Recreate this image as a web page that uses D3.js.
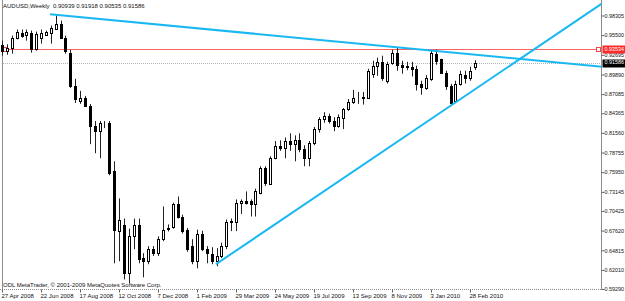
<!DOCTYPE html>
<html>
<head>
<meta charset="utf-8">
<script src="https://cdn.jsdelivr.net/npm/d3@7"></script>
<style>
  body { margin: 0; background: #fff; }
  svg { display: block; font-family: "Liberation Sans", Arial, sans-serif; }
</style>
</head>
<body>
<div id="my_dataviz"></div>
<script>
// weekly AUDUSD candles, first one is the week of 27 Apr 2008
var open = [0.9415,0.9329,0.9372,0.9515,0.9587,0.9558,0.9587,0.9357,0.9515,0.9558,
  0.9587,0.9644,0.9716,0.9515,0.9300,0.8827,0.8612,0.8655,0.8540,0.8253,
  0.8181,0.8296,0.8296,0.7608,0.6755,0.6848,0.6152,0.6683,0.6848,0.6368,
  0.6325,0.6497,0.6440,0.6640,0.6790,0.6819,0.7135,0.6963,0.6776,0.6540,
  0.6325,0.6712,0.6497,0.6425,0.6325,0.6396,0.6540,0.6891,0.6891,0.7149,
  0.7178,0.7178,0.7135,0.7293,0.7651,0.7422,0.7794,0.7966,0.7938,0.8038,
  0.7995,0.8060,0.7923,0.7794,0.8010,0.8210,0.8350,0.8400,0.8330,0.8260,
  0.8368,0.8497,0.8597,0.8655,0.8670,0.8655,0.8999,0.9114,0.9171,0.8898,
  0.9157,0.9300,0.9128,0.9110,0.9100,0.9070,0.8855,0.8798,0.8927,0.9286,
  0.9214,0.9013,0.8827,0.8612,0.8855,0.8980,0.8941,0.90939]
var high = [0.9472,0.9420,0.9544,0.9630,0.9630,0.9630,0.9615,0.9601,0.9630,0.9615,
  0.9687,0.9831,0.9759,0.9544,0.9343,0.8927,0.8755,0.8683,0.8569,0.8325,
  0.8325,0.8325,0.8325,0.7751,0.7221,0.6934,0.6790,0.6934,0.6934,0.6440,
  0.6540,0.6540,0.6680,0.7106,0.6850,0.7160,0.7250,0.6990,0.6800,0.6640,
  0.6776,0.6760,0.6540,0.6526,0.6511,0.6590,0.6920,0.6934,0.7207,0.7207,
  0.7321,0.7207,0.7360,0.7680,0.7680,0.7823,0.8040,0.8050,0.8090,0.8150,
  0.8120,0.8150,0.7980,0.8040,0.8240,0.8380,0.8450,0.8430,0.8380,0.8420,
  0.8511,0.8640,0.8770,0.8740,0.8740,0.9070,0.9185,0.9230,0.9257,0.9170,
  0.9343,0.9372,0.9185,0.9170,0.9170,0.9114,0.8900,0.8980,0.9329,0.9343,
  0.9214,0.9042,0.8855,0.8900,0.9042,0.9042,0.9100,0.91918]
var low = [0.9257,0.9270,0.9286,0.9490,0.9515,0.9472,0.9300,0.9329,0.9429,0.9544,
  0.9429,0.9630,0.9501,0.9286,0.8798,0.8583,0.8569,0.8526,0.7995,0.7866,
  0.7794,0.8224,0.7551,0.6296,0.6325,0.6066,0.6009,0.6497,0.6296,0.6095,
  0.6282,0.6400,0.6400,0.6612,0.6750,0.6790,0.6934,0.6720,0.6460,0.6282,
  0.6224,0.6468,0.6296,0.6282,0.6253,0.6370,0.6497,0.6755,0.6755,0.7000,
  0.7135,0.6963,0.6963,0.7280,0.7400,0.7422,0.7780,0.7900,0.7794,0.7900,
  0.7751,0.7880,0.7680,0.7680,0.7980,0.8160,0.8300,0.8290,0.8180,0.8230,
  0.8210,0.8470,0.8569,0.8570,0.8560,0.8640,0.8941,0.8970,0.8898,0.8860,
  0.9128,0.9042,0.9000,0.9050,0.8960,0.8760,0.8700,0.8770,0.8898,0.9128,
  0.8999,0.8770,0.8540,0.8583,0.8830,0.8860,0.8900,0.90535]
var close = [0.9329,0.9372,0.9515,0.9601,0.9544,0.9601,0.9357,0.9572,0.9587,0.9601,
  0.9658,0.9716,0.9515,0.9329,0.8827,0.8640,0.8655,0.8540,0.8253,0.8181,
  0.8296,0.8290,0.7579,0.6776,0.6920,0.6152,0.6683,0.6848,0.6353,0.6325,
  0.6497,0.6440,0.6640,0.6776,0.6800,0.7135,0.6963,0.6755,0.6497,0.6325,
  0.6712,0.6497,0.6440,0.6325,0.6396,0.6540,0.6891,0.6900,0.7149,0.7178,
  0.7149,0.7135,0.7321,0.7651,0.7436,0.7794,0.7966,0.7938,0.8040,0.7995,
  0.8060,0.7923,0.7794,0.8010,0.8210,0.8350,0.8400,0.8330,0.8260,0.8380,
  0.8497,0.8597,0.8655,0.8660,0.8650,0.9042,0.9114,0.9171,0.8941,0.9142,
  0.9300,0.9128,0.9100,0.9090,0.9070,0.8855,0.8810,0.8941,0.9300,0.9185,
  0.9013,0.8827,0.8583,0.8855,0.8999,0.8941,0.9042,0.91586]

// one date label every 8 bars
var dateLabels = ["27 Apr 2008","22 Jun 2008","17 Aug 2008","12 Oct 2008","7 Dec 2008",
  "1 Feb 2009","29 Mar 2009","24 May 2009","19 Jul 2009","13 Sep 2009",
  "8 Nov 2009","3 Jan 2010","28 Feb 2010"]
var priceTicks = [0.98305,0.95500,0.92695,0.89890,0.87085,0.84365,0.81560,0.78755,
  0.75950,0.73145,0.70425,0.67620,0.64815,0.62010,0.59290]

var title = "AUDUSD,Weekly  0.90939 0.91918 0.90535 0.91586"
var copyright = "ODL MetaTrader, \u00a9 2001-2009 MetaQuotes Software Corp."
var redLevel = 0.93534
var lastPrice = 0.91586
// trend lines: [bar index, price] anchors, drawn as rays to the right
var trendUpper = [[9.85, 0.9848], [122.9, 0.9100]]
var trendLower = [[43.9, 0.6283], [114.5, 0.9599]]

var W = 625, H = 301
var plotRight = 601.5, plotBottom = 289.5

var svg = d3.select("#my_dataviz")
  .append("svg")
  .attr("width", W)
  .attr("height", H)

var x = d3.scaleLinear().domain([0, 96]).range([2, 470])
var y = d3.scaleLinear().domain([0.59290, 0.98305]).range([289, 15.5])

svg.append("clipPath").attr("id", "plot")
  .append("rect").attr("x", 0).attr("y", 0)
  .attr("width", plotRight).attr("height", plotBottom)

// frame
svg.append("line")
  .attr("x1", 2.5).attr("x2", 2.5).attr("y1", 0).attr("y2", plotBottom)
  .style("stroke", "#909090")
svg.append("line")
  .attr("x1", 0).attr("x2", plotRight).attr("y1", plotBottom).attr("y2", plotBottom)
  .style("stroke", "#8c8c8c").style("stroke-dasharray", "1,1")
svg.append("line")
  .attr("x1", plotRight).attr("x2", plotRight).attr("y1", 0).attr("y2", plotBottom)
  .style("stroke", "#8c8c8c")

// last price line (dotted grey)
svg.append("line")
  .attr("x1", 3).attr("x2", plotRight)
  .attr("y1", Math.round(y(lastPrice)) + 0.5).attr("y2", Math.round(y(lastPrice)) + 0.5)
  .style("stroke", "#b4b4b4").style("stroke-dasharray", "1,1")

// horizontal red level with small square handles
var ry = Math.round(y(redLevel)) + 0.5
svg.append("line")
  .attr("x1", 3).attr("x2", plotRight - 1).attr("y1", ry).attr("y2", ry)
  .style("stroke", "#ff6060")
svg.selectAll(".handle")
  .data([4.5, plotRight - 3])
  .enter().append("rect")
  .attr("x", function(d) { return d - 2 })
  .attr("y", ry - 2)
  .attr("width", 4).attr("height", 4)
  .style("fill", "#fff").style("stroke", "#ff4040")

// candles
var bars = d3.range(open.length)
var g = svg.append("g").attr("clip-path", "url(#plot)")

g.selectAll(".wick")
  .data(bars)
  .enter().append("line")
  .attr("x1", function(i) { return Math.round(x(i)) + 0.5 })
  .attr("x2", function(i) { return Math.round(x(i)) + 0.5 })
  .attr("y1", function(i) { return y(high[i]) })
  .attr("y2", function(i) { return y(low[i]) })
  .style("stroke", "#222")

g.selectAll(".body")
  .data(bars)
  .enter().append("rect")
  .attr("x", function(i) { return Math.round(x(i)) - 0.5 })
  .attr("y", function(i) { return Math.round(y(Math.max(open[i], close[i]))) + 0.5 })
  .attr("width", 2)
  .attr("height", function(i) {
    return Math.max(0, Math.round(y(Math.min(open[i], close[i]))) - Math.round(y(Math.max(open[i], close[i]))))
  })
  .style("fill", function(i) { return close[i] >= open[i] ? "#fff" : "#000" })
  .style("stroke", "#000")

// trend lines, extended to the right edge
var trendLine = d3.line()
  .x(function(d) { return x(d[0]) })
  .y(function(d) { return y(d[1]) })
var extend = function(t) {
  var slope = (t[1][1] - t[0][1]) / (t[1][0] - t[0][0])
  return [t[0], [140, t[0][1] + slope * (140 - t[0][0])]]
}
svg.append("g").attr("clip-path", "url(#plot)")
  .selectAll("path")
  .data([extend(trendUpper), extend(trendLower)])
  .enter().append("path")
  .attr("d", trendLine)
  .style("fill", "none")
  .style("stroke", "#1ab8f2")
  .style("stroke-width", 2)

// price axis on the right
svg.append("g")
  .attr("transform", "translate(" + plotRight + ",0)")
  .style("font-size", "5.4px")
  .call(d3.axisRight(y).tickValues(priceTicks).tickFormat(d3.format(".5f")).tickSize(3).tickPadding(0))
  .call(function(a) { a.select(".domain").remove() })
  .call(function(a) { a.selectAll("line").style("stroke", "#606060") })
  .call(function(a) { a.selectAll("text").style("fill", "#111") })

// price boxes
var boxes = [{v: redLevel, bg: "#ff2a2a", txt: "0.93534"}, {v: lastPrice, bg: "#000", txt: "0.91586"}]
var box = svg.selectAll(".pbox").data(boxes).enter().append("g")
box.append("rect")
  .attr("x", plotRight + 1).attr("width", W - plotRight)
  .attr("y", function(d) { return Math.round(y(d.v)) - 3.5 }).attr("height", 8)
  .style("fill", function(d) { return d.bg })
box.append("text")
  .attr("x", plotRight + 3).attr("y", function(d) { return y(d.v) })
  .attr("dy", "0.35em")
  .style("font-size", "5.4px").style("fill", "#fff")
  .text(function(d) { return d.txt })

// date axis
svg.append("g")
  .attr("transform", "translate(0," + plotBottom + ")")
  .style("font-size", "6px")
  .call(d3.axisBottom(x).tickValues(d3.range(0, 97, 8))
    .tickFormat(function(d, k) { return dateLabels[k] }).tickSize(3).tickPadding(1))
  .call(function(a) { a.select(".domain").remove() })
  .call(function(a) { a.selectAll("line").style("stroke", "#606060") })
  .call(function(a) { a.selectAll("text").attr("text-anchor", "start").attr("x", -1).style("fill", "#111") })

// labels
svg.append("text").attr("x", 3).attr("y", 8)
  .style("font-size", "6px").style("fill", "#111").style("white-space", "pre")
  .text(title)
svg.append("text").attr("x", 3).attr("y", 287)
  .style("font-size", "6px").style("fill", "#111")
  .text(copyright)
</script>
</body>
</html>
